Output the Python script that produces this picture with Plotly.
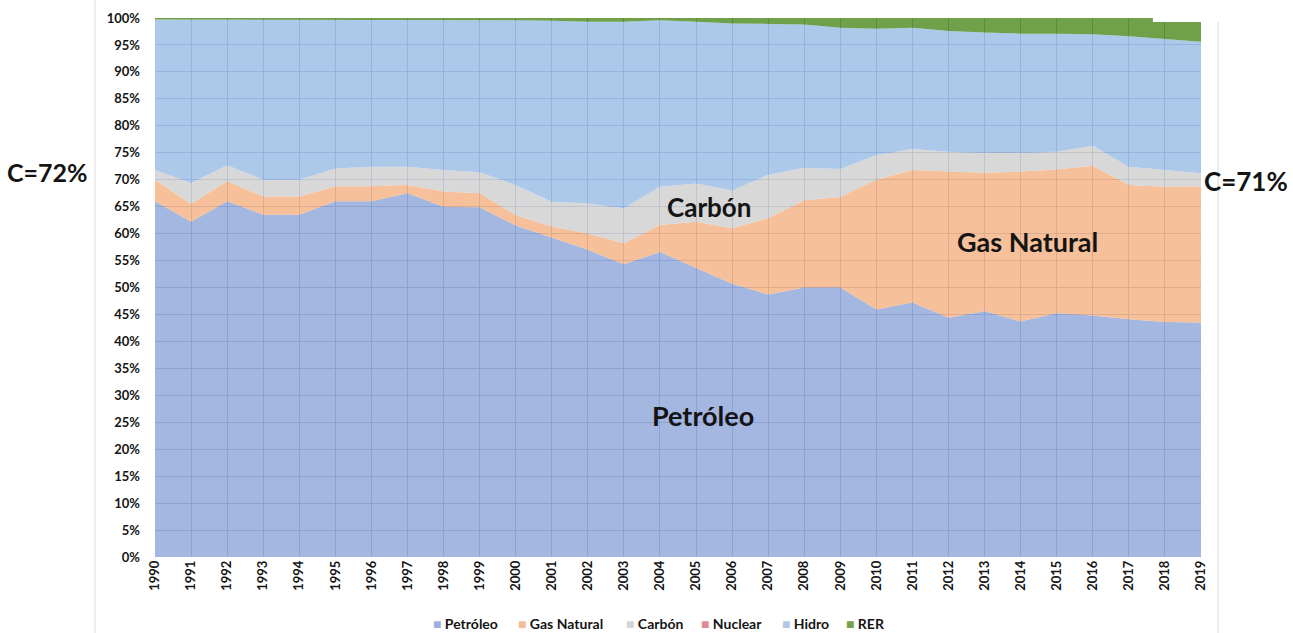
import plotly.graph_objects as go

years = list(range(1990, 2020))

# Shares of primary energy supply by source (%), stacked bottom to top
petroleo = [66.0, 62.2, 66.0, 63.5, 63.5, 66.0, 66.0, 67.5, 65.0, 64.9,
            61.5, 59.2, 57.0, 54.3, 56.6, 53.6, 50.7, 48.7, 50.0, 50.0,
            45.9, 47.2, 44.4, 45.6, 43.7, 45.2, 44.8, 44.1, 43.6, 43.5]
gas_natural = [4.0, 3.3, 3.7, 3.4, 3.4, 2.8, 2.8, 1.5, 2.8, 2.6,
               1.9, 2.1, 3.0, 3.9, 5.0, 8.6, 10.3, 14.2, 16.2, 16.8,
               24.1, 24.6, 27.1, 25.7, 27.8, 26.7, 27.8, 24.9, 25.1, 25.3]
carbon = [1.8, 3.9, 3.0, 3.1, 3.1, 3.3, 3.6, 3.4, 4.0, 3.9,
          5.6, 4.6, 5.6, 6.5, 7.1, 7.1, 7.0, 8.0, 6.0, 5.2,
          4.6, 3.9, 3.7, 3.7, 3.5, 3.3, 3.7, 3.4, 3.1, 2.4]
nuclear = [0.0] * 30
hidro = [27.9, 30.3, 27.0, 29.7, 29.7, 27.6, 27.3, 27.3, 27.9, 28.2,
         30.6, 33.6, 33.7, 34.6, 30.9, 30.0, 31.0, 28.0, 26.6, 26.2,
         23.4, 22.5, 22.4, 22.3, 22.1, 21.9, 20.7, 24.2, 24.3, 24.4]
rer = [0.3, 0.3, 0.3, 0.3, 0.3, 0.3, 0.3, 0.3, 0.3, 0.4,
       0.4, 0.5, 0.7, 0.7, 0.4, 0.7, 1.0, 1.1, 1.2, 1.8,
       2.0, 1.8, 2.4, 2.7, 2.9, 2.9, 3.0, 3.4, 3.9, 4.4]

series = [
    ("Petróleo", petroleo, "rgba(141,165,216,0.8)", "#9fb0dc"),
    ("Gas Natural", gas_natural, "rgba(244,176,129,0.8)", "#f4bd93"),
    ("Carbón", carbon, "rgba(206,206,208,0.8)", "#d4d4d6"),
    ("Nuclear", nuclear, "rgba(225,120,135,0.8)", "#e08a96"),
    ("Hidro", hidro, "rgba(152,187,229,0.8)", "#b4c8e6"),
    ("RER", rer, "rgba(77,136,30,0.8)", "#77a048"),
]

FONT = "Lato"
DARK = "#141414"

fig = go.Figure()
for name, vals, fill, swatch in series:
    fig.add_trace(go.Scatter(
        x=years, y=vals, name=name, mode="lines",
        stackgroup="energia", line=dict(width=0), fillcolor=fill,
        showlegend=False, hoverinfo="x+y+name",
    ))

# Compact key under the x axis: left edge of each entry, in pixels
key_left_px = [431, 516, 624, 699, 780, 844]
plot_left, plot_width = 155, 1046
for (name, vals, fill, swatch), left in zip(series, key_left_px):
    fig.add_annotation(
        text=f"<span style='color:{swatch}'>■</span> {name}",
        x=(left - plot_left) / plot_width, y=-0.1225,
        xref="paper", yref="paper", xanchor="left", yanchor="middle",
        showarrow=False,
        font=dict(family=FONT, size=14, color=DARK, weight="bold"),
    )

annots = [
    dict(text="C=72%", x=-0.103, y=0.714, size=25),
    dict(text="C=71%", x=1.043, y=0.698, size=26),
    dict(text="Carbón", x=0.5296, y=0.649, size=26),
    dict(text="Gas Natural", x=0.8337, y=0.586, size=27),
    dict(text="Petróleo", x=0.524, y=0.2616, size=27),
]
for a in annots:
    fig.add_annotation(
        text=a["text"], x=a["x"], y=a["y"], xref="paper", yref="paper",
        xanchor="center", yanchor="middle", showarrow=False,
        font=dict(family=FONT, size=a["size"], color=DARK, weight="bold"),
    )

# Outer chart frame
for xp in (-0.0574, 1.0163):
    fig.add_shape(type="line", xref="paper", yref="paper",
                  x0=xp, x1=xp, y0=-0.141, y1=1.0334,
                  line=dict(color="#dcdcdc", width=1))
# White strip over the upper right corner
fig.add_shape(type="rect", xref="paper", yref="paper",
              x0=0.954, x1=1.14, y0=0.9925, y1=1.0334,
              fillcolor="white", line=dict(width=0), layer="above")

fig.update_layout(
    width=1293, height=633,
    margin=dict(l=155, r=92, t=18, b=76),
    paper_bgcolor="white", plot_bgcolor="white",
    font=dict(family=FONT, color=DARK),
    showlegend=False,
    xaxis=dict(
        range=[1990, 2019], tickmode="array", tickvals=years,
        ticktext=[str(y) for y in years], tickangle=-90,
        showgrid=True, gridcolor="#8c98bc", gridwidth=1,
        zeroline=False, showline=False, ticks="", automargin=False,
        tickfont=dict(family=FONT, size=13, color=DARK, weight="bold"),
    ),
    yaxis=dict(
        range=[0, 100], dtick=5, ticksuffix="%",
        showgrid=True, gridcolor="#8c98bc", gridwidth=1,
        zeroline=False, showline=False, ticks="", automargin=False,
        ticklabelstandoff=14,
        tickfont=dict(family=FONT, size=13, color=DARK, weight="bold"),
    ),
    hovermode="x unified",
)

fig.write_html("out.html")
